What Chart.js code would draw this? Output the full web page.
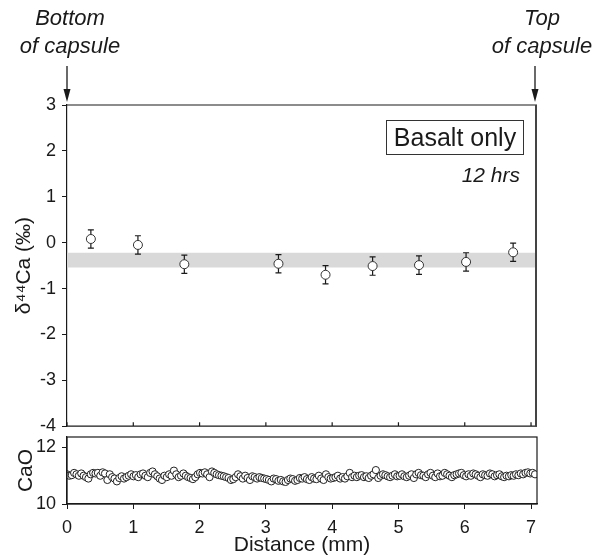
<!DOCTYPE html>
<html>
<head>
<meta charset="utf-8">
<script src="https://cdn.jsdelivr.net/npm/chart.js@4"></script>
<style>
  body { margin: 0; background: #fff; font-family: "Liberation Sans", Arial, sans-serif; color: #1a1a1a; }
  #wrap { position: relative; width: 593px; height: 558px; overflow: hidden; }
  canvas { position: absolute; left: 0; }
  .note { position: absolute; font-style: italic; font-size: 22px; line-height: 28px; text-align: center; white-space: nowrap; }
  #boxLabel { position: absolute; left: 386px; top: 120px; width: 136px; height: 33px; border: 1px solid #333;
              font-size: 25px; line-height: 33px; text-align: center; }
  #hrs { position: absolute; left: 440px; top: 163px; width: 80px; text-align: right; font-style: italic; font-size: 21px; }
</style>
</head>
<body>
<div id="wrap">
  <canvas id="topChart" width="593" height="443" style="top:0"></canvas>
  <canvas id="botChart" width="593" height="138" style="top:420px"></canvas>
  <div class="note" style="left:18px; top:4px; width:104px;">Bottom<br>of capsule</div>
  <div class="note" style="left:490px; top:4px; width:104px;">Top<br>of capsule</div>
  <div id="boxLabel">Basalt only</div>
  <div id="hrs">12 hrs</div>
</div>
<script>
// d44Ca measurements along the capsule
const d44Dist = [0.36, 1.07, 1.77, 3.19, 3.90, 4.61, 5.31, 6.02, 6.73];
const d44Val  = [0.08, -0.05, -0.47, -0.46, -0.70, -0.51, -0.49, -0.42, -0.21];
const d44Err  = [0.2, 0.2, 0.2, 0.2, 0.2, 0.2, 0.2, 0.2, 0.2];

// grey band (starting basalt value)
const bandTop = -0.22;
const bandBottom = -0.54;

// CaO profile (wt%), evenly spaced traverse
const caoStart = 0;
const caoStep = 0.03584;
const caoVal = [
  11.05, 11.0, 11.02, 11.1, 11.05, 11.0, 11.08, 11.0, 10.95, 10.9, 11.05, 11.1, 11.08, 11.1,
  11.0, 11.12, 11.08, 10.85, 11.05, 10.95, 10.9, 10.8, 10.92, 10.98, 10.9, 10.95, 11.0, 11.05,
  10.98, 11.02, 10.95, 11.05, 11.08, 11.0, 10.95, 11.1, 11.15, 11.05, 10.98, 10.9, 10.85, 11.0,
  10.95, 11.05, 11.0, 11.18, 11.05, 10.95, 11.0, 11.08, 11.0, 10.95, 10.92, 10.88, 10.95, 11.05,
  11.1, 11.08, 11.12, 11.05, 10.95, 11.15, 11.1, 11.05, 11.02, 11.0, 10.98, 10.95, 10.92, 10.85,
  10.88, 10.95, 11.05, 10.98, 10.9, 11.0, 10.92, 10.85, 10.98, 10.95, 10.9, 10.95, 10.92, 10.9,
  10.88, 10.85, 10.8, 10.9, 10.88, 10.82, 10.85, 10.8, 10.78, 10.85, 10.9, 10.88, 10.82, 10.85,
  10.92, 10.9, 10.95, 10.88, 10.85, 10.95, 10.9, 10.88, 11.0, 10.9, 10.85, 11.05, 10.95, 10.9,
  10.92, 10.95, 11.0, 10.9, 10.95, 10.9, 10.98, 11.1, 10.95, 11.0, 10.95, 11.0, 11.02, 10.95,
  10.98, 10.92, 11.0, 11.05, 11.2, 10.92, 11.0, 11.05, 11.02, 10.98, 10.95, 11.0, 11.05, 10.98,
  11.0, 11.05, 10.98, 10.95, 11.0, 11.05, 10.92, 11.05, 11.1, 11.02, 11.0, 10.95, 11.05, 11.1,
  11.0, 10.95, 11.08, 10.98, 11.0, 11.1, 11.05, 11.0, 10.95, 11.02, 11.05, 11.08, 11.1, 11.02,
  10.98, 11.05, 11.0, 11.08, 11.05, 11.0, 10.95, 11.05, 11.02, 11.0, 11.08, 11.05, 10.98, 11.02,
  11.05, 10.98, 10.95, 11.0, 10.98, 11.02, 11.0, 11.05, 11.02, 11.08, 11.05, 11.1, 11.12, 11.08,
  11.1, 11.05
];

const distTicks = [0, 1, 2, 3, 4, 5, 6, 7];
const xMin = 0, xMax = 7.09;
const ink = '#1a1a1a';
const fontFamily = '"Liberation Sans", Arial, sans-serif';

Chart.defaults.font.family = fontFamily;
Chart.defaults.color = ink;

const errorBars = {
  id: 'errorBars',
  beforeDatasetDraw(chart, args) {
    if (args.index !== 2) return;
    const ctx = chart.ctx, xs = chart.scales.x, ys = chart.scales.y;
    ctx.save();
    ctx.strokeStyle = ink;
    ctx.lineWidth = 1.2;
    d44Dist.forEach((d, i) => {
      const px = xs.getPixelForValue(d);
      const y1 = ys.getPixelForValue(d44Val[i] + d44Err[i]);
      const y2 = ys.getPixelForValue(d44Val[i] - d44Err[i]);
      ctx.beginPath();
      ctx.moveTo(px, y1); ctx.lineTo(px, y2);
      ctx.moveTo(px - 3, y1); ctx.lineTo(px + 3, y1);
      ctx.moveTo(px - 3, y2); ctx.lineTo(px + 3, y2);
      ctx.stroke();
    });
    ctx.restore();
  }
};

const topFrame = {
  id: 'topFrame',
  afterDraw(chart) {
    const ctx = chart.ctx, a = chart.chartArea, xs = chart.scales.x;
    ctx.save();
    ctx.strokeStyle = ink;
    ctx.lineWidth = 1.2;
    ctx.beginPath();
    ctx.moveTo(a.left, a.top); ctx.lineTo(a.right, a.top);
    ctx.moveTo(a.left, a.bottom); ctx.lineTo(a.right, a.bottom);
    // inward ticks on the bottom edge
    distTicks.forEach(t => {
      const px = xs.getPixelForValue(t);
      ctx.moveTo(px, a.bottom); ctx.lineTo(px, a.bottom - 4);
    });
    ctx.stroke();
    ctx.strokeStyle = '#444';
    ctx.lineWidth = 2;
    ctx.beginPath();
    ctx.moveTo(a.right - 1, a.top); ctx.lineTo(a.right - 1, a.bottom);
    ctx.stroke();
    // capsule arrows
    ctx.strokeStyle = ink;
    ctx.fillStyle = ink;
    ctx.lineWidth = 1.3;
    [a.left, a.right - 2].forEach(x => {
      ctx.beginPath();
      ctx.moveTo(x, 66); ctx.lineTo(x, 92);
      ctx.stroke();
      ctx.beginPath();
      ctx.moveTo(x - 3.5, 89); ctx.lineTo(x + 3.5, 89); ctx.lineTo(x, 102);
      ctx.closePath();
      ctx.fill();
    });
    ctx.restore();
  }
};

const boxFrame = {
  id: 'boxFrame',
  afterDraw(chart) {
    const ctx = chart.ctx, a = chart.chartArea;
    ctx.save();
    ctx.strokeStyle = ink;
    ctx.lineWidth = 1.2;
    ctx.strokeRect(a.left, a.top, a.right - a.left, a.bottom - a.top);
    ctx.restore();
  }
};

new Chart(document.getElementById('topChart'), {
  type: 'scatter',
  data: {
    datasets: [
      {
        data: [{ x: xMin, y: bandTop }, { x: xMax, y: bandTop }],
        showLine: true, borderWidth: 0, pointRadius: 0,
        fill: '+1', backgroundColor: '#d9d9d9', order: 2
      },
      {
        data: [{ x: xMin, y: bandBottom }, { x: xMax, y: bandBottom }],
        showLine: true, borderWidth: 0, pointRadius: 0, order: 3
      },
      {
        data: d44Dist.map((d, i) => ({ x: d, y: d44Val[i] })),
        pointRadius: 4.5, pointBackgroundColor: '#fff',
        pointBorderColor: '#333', pointBorderWidth: 1, order: 1
      }
    ]
  },
  options: {
    responsive: false,
    devicePixelRatio: 1,
    animation: false,
    layout: { padding: { left: 0, top: 105, right: 56, bottom: 5 } },
    plugins: { legend: { display: false }, tooltip: { enabled: false } },
    scales: {
      x: { type: 'linear', min: xMin, max: xMax, display: false },
      y: {
        min: -4, max: 3,
        ticks: {
          stepSize: 0.5, padding: 6, font: { size: 18 },
          callback: v => Number.isInteger(v) ? String(v) : ''
        },
        grid: { drawOnChartArea: false, tickLength: 5, color: ink, lineWidth: 1 },
        border: { display: true, color: ink, width: 1.2 },
        title: { display: true, text: 'δ⁴⁴Ca (‰)', font: { size: 21 }, padding: { top: 12, bottom: 0 } },
        afterFit: s => { s.width = 67; }
      }
    }
  },
  plugins: [errorBars, topFrame]
});

new Chart(document.getElementById('botChart'), {
  type: 'scatter',
  data: {
    datasets: [{
      data: caoVal.map((v, i) => ({ x: caoStart + i * caoStep, y: v })),
      pointRadius: 3.6, pointBackgroundColor: '#fff',
      pointBorderColor: '#222', pointBorderWidth: 1
    }]
  },
  options: {
    responsive: false,
    devicePixelRatio: 1,
    animation: false,
    layout: { padding: { left: 0, top: 17, right: 56, bottom: 0 } },
    plugins: { legend: { display: false }, tooltip: { enabled: false } },
    scales: {
      x: {
        type: 'linear', min: xMin, max: xMax,
        afterBuildTicks: s => { s.ticks = distTicks.map(v => ({ value: v })); },
        ticks: { padding: 8, font: { size: 18 }, maxRotation: 0 },
        grid: { drawOnChartArea: false, tickLength: 5, color: ink },
        border: { display: true, color: ink, width: 1.2 },
        title: { display: true, text: 'Distance (mm)', font: { size: 21 }, padding: { top: 0, bottom: 0 } },
        afterFit: s => { s.height = 54; }
      },
      y: {
        min: 10, max: 12.37,
        afterBuildTicks: s => { s.ticks = [{ value: 10 }, { value: 12 }]; },
        ticks: { padding: 6, font: { size: 18 } },
        grid: { drawOnChartArea: false, tickLength: 5, color: ink },
        border: { display: true, color: ink, width: 1.2 },
        title: { display: true, text: 'CaO', font: { size: 21 }, padding: { top: 14, bottom: 0 } },
        afterFit: s => { s.width = 67; }
      }
    }
  },
  plugins: [boxFrame]
});
</script>
</body>
</html>
